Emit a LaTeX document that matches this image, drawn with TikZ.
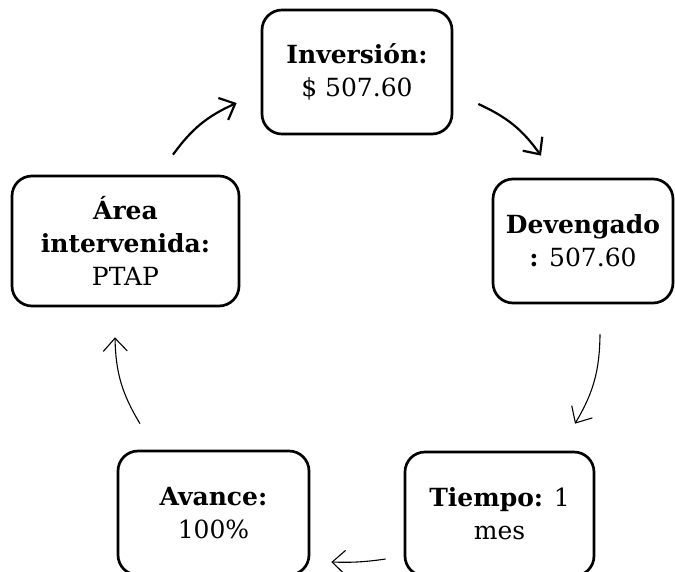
\documentclass[tikz,border=0pt]{standalone}
\usepackage{fontspec}
\setmainfont{DejaVu Serif}
\usepackage{tikz}
\usetikzlibrary{arrows.meta, positioning}

\tikzset{
    infobox/.style={draw, line width=2.7pt, rounded corners=20pt, align=center,
        font=\fontsize{25}{33}\selectfont, inner sep=0pt},
    thickarrow/.style={line width=2.2pt, -{Straight Barb[length=13pt,width=24pt]}},
    thinarrow/.style={line width=1.1pt, -{Straight Barb[length=13pt,width=24pt]}}
}

\begin{document}
\begin{tikzpicture}[x=1pt, y=-1pt]
    \clip (0,0) rectangle (675,571);
    \useasboundingbox (0,0) rectangle (675,571);

    % Boxes
    \node[infobox, minimum width=190pt, minimum height=124pt] (inv) at (357,72)
        {\textbf{Inversión:}\\\$ 507.60};
    \node[infobox, minimum width=180pt, minimum height=124pt] (dev) at (583,241)
        {\textbf{Devengado}\\\textbf{:} 507.60};
    \node[infobox, minimum width=189pt, minimum height=124pt] (tie) at (499.5,514)
        {\textbf{Tiempo:} 1\\mes};
    \node[infobox, minimum width=191pt, minimum height=124pt] (ava) at (213.5,513)
        {\textbf{Avance:}\\100\%};
    \node[infobox, minimum width=227pt, minimum height=130pt] (are) at (125.5,241)
        {\textbf{Área}\\\textbf{intervenida:}\\PTAP};

    % Cycle
    \draw[thickarrow] ([xshift=47.5pt, yshift=20pt]are.north) to[bend left=15]
        ([xshift=-24pt, yshift=-31pt]inv.west);
    \draw[thickarrow] ([xshift=25pt, yshift=-32pt]inv.east) to[bend left=15]
        ([xshift=-42pt, yshift=22pt]dev.north);
    \draw[thinarrow] ([xshift=17pt, yshift=-30pt]dev.south) to[bend left=15]
        ([xshift=75.5pt, yshift=27pt]tie.north);
    \draw[thinarrow] ([xshift=-18pt, yshift=-45pt]tie.west) to[bend left=5]
        ([xshift=21pt, yshift=-49pt]ava.east);
    \draw[thinarrow] ([xshift=-73.5pt, yshift=26pt]ava.north) to[bend left=15]
        ([xshift=-10.5pt, yshift=-30pt]are.south);
\end{tikzpicture}
\end{document}
